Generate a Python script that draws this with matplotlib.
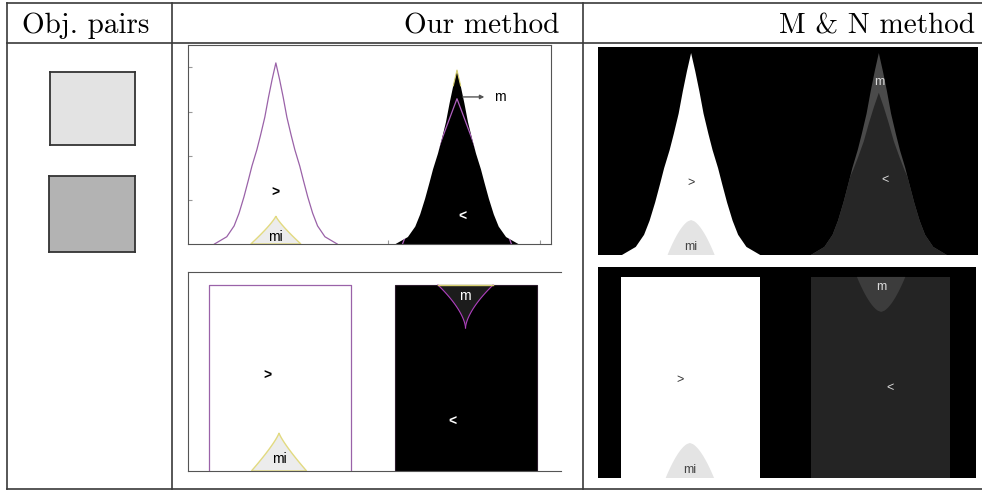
import numpy as np
import matplotlib.pyplot as plt
from matplotlib.patches import Polygon

# ---- data ----
headers = ['Obj. pairs', 'Our method', 'M & N method']
pair_fill = ['#e3e3e3', '#b3b3b3']          # shades of the two objects

# peak profile: half width (share of half base) at fractions of peak height
prof_h = [0, .04, .10, .17, .26, .35, .43, .52, .60, .70, .81, .91, 1.0]
prof_w = [1.0, .80, .68, .60, .52, .45, .39, .31, .25, .18, .12, .06, 0]

gt, lt, mi, m = '>', '<', 'mi', 'm'

# ---- layout (pixels of the 982x492 page) ----
W, H = 982, 492
def box(x0, y0, x1, y1):
    return [x0/W, 1 - y1/H, (x1-x0)/W, (y1-y0)/H]

def peak(c, top, hb):
    h = np.array(prof_h)*top
    w = np.array(prof_w)*hb
    return np.concatenate([c - w, (c + w)[::-1]]), np.concatenate([h, h[::-1]])

def arch(c, top, hb, p, base=0.0, down=False):
    t = np.linspace(0, 1, 30)
    w = hb*(1 - t)**p
    h = base + (top - base)*t
    xs = np.concatenate([c - w, (c + w)[::-1]])
    ys = np.concatenate([h, h[::-1]])
    if down:
        ys = base + top - ys
    return xs, ys

def panel(rect):
    ax = fig.add_axes(rect)
    ax.set_xlim(0, 1); ax.set_ylim(0, 1)
    ax.set_xticks([]); ax.set_yticks([])
    return ax

fig = plt.figure(figsize=(9.82, 4.92), dpi=100)

# table rules and header
tab = fig.add_axes([0, 0, 1, 1])
tab.set_xlim(0, W); tab.set_ylim(H, 0); tab.axis('off')
lc = '#3a3a3a'
for y in (3, 43, 489):
    tab.plot([7, W], [y, y], color=lc, lw=1.2)
for x in (7, 172, 583):
    tab.plot([x, x], [3, 489], color=lc, lw=1.2)
hf = dict(family='cmr10', fontsize=21, va='baseline')
tab.text(22, 33, headers[0], ha='left', **hf)
tab.text(559, 33, headers[1], ha='right', **hf)
tab.text(975, 33, headers[2], ha='right', **hf)

# object pairs
for rect, fc in zip([box(50, 72, 135, 145), box(49, 176, 135, 252)], pair_fill):
    a = panel(rect)
    a.set_facecolor(fc)
    for s in a.spines.values():
        s.set_color('#333333'); s.set_linewidth(1.3)

sans = 'Liberation Sans'
purple = '#9a62a8'

# ---- our method, peaks ----
a = panel(box(188, 45, 551, 244))
for s in a.spines.values():
    s.set_color('#555555'); s.set_linewidth(0.8)
a.set_yticks([.221, .442, .663, .889]); a.set_xticks([.551, .970])
a.tick_params(direction='in', length=3, color='#999999', labelleft=False, labelbottom=False)
xs, ys = peak(.242, .91, .169)
a.plot(xs, ys, color=purple, lw=0.9)
tx, ty = arch(.242, .14, .069, 1.2)
a.fill(tx, ty, facecolor='#ececec', edgecolor='#e2da80', lw=1)
xs, ys = peak(.741, .874, .169)
outer = Polygon(np.c_[xs, ys], closed=True, facecolor='black', edgecolor='none')
a.add_patch(outer)
sel = ys > .76
a.plot(xs[sel], ys[sel], color='#d8d070', lw=0.8)
tx, ty = arch(.741, .73, .15, 1.0)
ln, = a.plot(tx, ty, color='#b060c0', lw=0.9)
ln.set_clip_path(outer)
a.annotate('', xy=(.824, .739), xytext=(.749, .739),
           arrowprops=dict(arrowstyle='-|>', color='#555555', lw=1, mutation_scale=6))
a.text(.86, .739, m, family=sans, fontsize=10, ha='center', va='center')
a.text(.242, .256, gt, family=sans, fontsize=10, fontweight='bold', ha='center', va='center')
a.text(.755, .136, lt, family=sans, fontsize=10, fontweight='bold', color='white', ha='center', va='center')
a.text(.242, .035, mi, family=sans, fontsize=10, ha='center', va='center')

# ---- our method, bars ----
a = panel(box(188, 272, 561, 471))
a.spines['right'].set_visible(False)
for s in a.spines.values():
    s.set_color('#555555'); s.set_linewidth(0.8)
a.fill([.056, .056, .437, .437], [0, .935, .935, 0], facecolor='white', edgecolor='none')
a.plot([.056, .056, .437, .437], [0, .935, .935, 0], color=purple, lw=0.9)
tx, ty = arch(.244, .191, .074, 1.2)
a.fill(tx, ty, facecolor='#ececec', edgecolor='#e2da80', lw=1)
a.fill([.555, .555, .936, .936], [0, .935, .935, 0], facecolor='black', edgecolor='#2a1a2a', lw=0.8)
tx, ty = arch(.744, .935, .074, 1.6, base=.719, down=True)
a.fill(tx, ty, facecolor='#1c1c1c', edgecolor='none')
a.plot(tx[:30], ty[:30], color='#b040c0', lw=0.8)
a.plot(tx[30:], ty[30:], color='#b040c0', lw=0.8)
a.plot([.670, .818], [.935, .935], color='#d8d070', lw=1)
a.text(.743, .879, m, family=sans, fontsize=10, color='white', ha='center', va='center')
a.text(.214, .477, gt, family=sans, fontsize=10, fontweight='bold', ha='center', va='center')
a.text(.708, .246, lt, family=sans, fontsize=10, fontweight='bold', color='white', ha='center', va='center')
a.text(.244, .06, mi, family=sans, fontsize=10, ha='center', va='center')

# ---- M & N method, peaks ----
a = panel(box(598, 47, 978, 255))
a.set_facecolor('black')
for s in a.spines.values():
    s.set_visible(False)
xs, ys = peak(.245, .971, .182)
a.fill(xs, ys, facecolor='white', edgecolor='none')
tx, ty = arch(.245, .168, .062, 0.6)
a.fill(tx, ty, facecolor='#e4e4e4', edgecolor='none')
xs, ys = peak(.739, .971, .179)
outer = Polygon(np.c_[xs, ys], closed=True, facecolor='#4a4a4a', edgecolor='none')
a.add_patch(outer)
ix, iy = peak(.739, .78, .22)
inner = a.fill(ix, iy, facecolor='#262626', edgecolor='none')[0]
inner.set_clip_path(outer)
a.text(.739, .83, m, family=sans, fontsize=9, color='#dddddd', ha='center', va='center')
a.text(.755, .36, lt, family=sans, fontsize=9, color='#dddddd', ha='center', va='center')
a.text(.245, .346, gt, family=sans, fontsize=9, color='#333333', ha='center', va='center')
a.text(.245, .04, mi, family=sans, fontsize=9, color='#444444', ha='center', va='center')

# ---- M & N method, bars ----
a = panel(box(598, 267, 976, 478))
a.set_facecolor('black')
for s in a.spines.values():
    s.set_visible(False)
a.fill([.061, .061, .429, .429], [0, .953, .953, 0], facecolor='white', edgecolor='none')
tx, ty = arch(.243, .166, .064, 0.6)
a.fill(tx, ty, facecolor='#e4e4e4', edgecolor='none')
a.fill([.563, .563, .931, .931], [0, .953, .953, 0], facecolor='#242424', edgecolor='none')
tx, ty = arch(.749, .953, .064, 0.6, base=.787, down=True)
a.fill(tx, ty, facecolor='#3c3c3c', edgecolor='none')
a.text(.749, .905, m, family=sans, fontsize=9, color='#dddddd', ha='center', va='center')
a.text(.217, .464, gt, family=sans, fontsize=9, color='#333333', ha='center', va='center')
a.text(.772, .427, lt, family=sans, fontsize=9, color='#dddddd', ha='center', va='center')
a.text(.243, .04, mi, family=sans, fontsize=9, color='#444444', ha='center', va='center')

fig.savefig('out.png', dpi=100)
